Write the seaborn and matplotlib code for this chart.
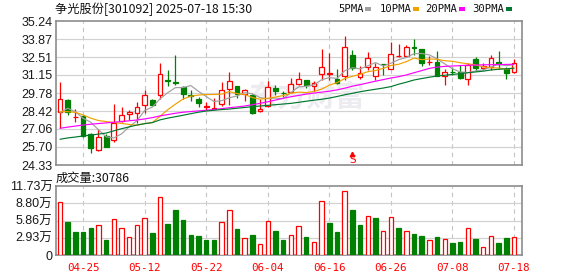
import numpy as np
import matplotlib
matplotlib.use("Agg")
import matplotlib.pyplot as plt
from matplotlib.patches import Rectangle
import seaborn as sns

# ---------------- data ----------------
dates = ["2025-04-22", "2025-04-23", "2025-04-24", "2025-04-25", "2025-04-28", "2025-04-29", "2025-04-30",
         "2025-05-06", "2025-05-07", "2025-05-08", "2025-05-09", "2025-05-12", "2025-05-13", "2025-05-14",
         "2025-05-15", "2025-05-16", "2025-05-19", "2025-05-20", "2025-05-21", "2025-05-22", "2025-05-23",
         "2025-05-26", "2025-05-27", "2025-05-28", "2025-05-29", "2025-05-30", "2025-06-03", "2025-06-04",
         "2025-06-05", "2025-06-06", "2025-06-09", "2025-06-10", "2025-06-11", "2025-06-12", "2025-06-13",
         "2025-06-16", "2025-06-17", "2025-06-18", "2025-06-19", "2025-06-20", "2025-06-23", "2025-06-24",
         "2025-06-25", "2025-06-26", "2025-06-27", "2025-06-30", "2025-07-01", "2025-07-02", "2025-07-03",
         "2025-07-04", "2025-07-07", "2025-07-08", "2025-07-09", "2025-07-10", "2025-07-11", "2025-07-14",
         "2025-07-15", "2025-07-16", "2025-07-17", "2025-07-18"]

opens = [28.37, 29.26, 27.97, 28.04, 26.68, 25.44, 26.55, 26.20, 27.69, 28.17,
         28.25, 28.85, 29.26, 29.61, 30.75, 30.62, 30.27, 29.63, 29.33, 28.73,
         28.61, 28.92, 30.07, 30.32, 29.74, 29.63, 28.40, 28.80, 30.20, 29.80,
         29.84, 30.44, 30.77, 30.32, 31.20, 31.26, 30.82, 31.07, 32.66, 31.02,
         31.73, 31.07, 32.00, 31.62, 32.57, 32.61, 33.25, 33.12, 32.14, 32.16,
         31.08, 31.38, 31.40, 30.88, 32.34, 31.66, 31.72, 32.11, 31.58, 31.40]
highs = [30.62, 29.30, 28.55, 28.10, 26.75, 27.08, 26.70, 28.95, 28.70, 28.50,
         29.08, 30.01, 29.30, 32.04, 31.53, 32.66, 30.33, 30.01, 29.51, 29.13,
         29.38, 30.60, 31.35, 30.32, 30.09, 29.70, 29.33, 30.69, 30.37, 29.96,
         30.92, 31.40, 30.80, 30.69, 33.10, 32.79, 31.60, 34.10, 33.04, 31.83,
         32.87, 32.08, 32.02, 33.67, 33.50, 33.42, 33.88, 33.15, 32.59, 32.95,
         31.60, 31.73, 31.91, 32.08, 32.54, 32.08, 32.66, 32.95, 31.78, 32.36]
lows = [27.13, 28.12, 27.61, 26.47, 25.26, 25.39, 25.66, 26.05, 27.60, 27.74,
        27.54, 28.25, 28.80, 29.35, 30.32, 30.42, 29.31, 29.20, 28.75, 28.50,
        28.58, 28.80, 28.88, 29.38, 29.20, 28.17, 28.35, 28.70, 29.61, 29.50,
        29.76, 30.39, 30.14, 29.96, 30.77, 30.77, 30.46, 30.77, 31.53, 30.82,
        31.53, 30.77, 31.15, 31.58, 32.49, 32.54, 32.66, 31.80, 31.91, 31.07,
        30.41, 31.15, 30.85, 30.39, 31.48, 31.53, 31.53, 31.58, 30.88, 31.28]
closes = [29.31, 28.37, 28.00, 26.55, 25.64, 26.43, 25.72, 27.54, 28.10, 28.35,
          28.70, 29.61, 28.85, 31.20, 30.70, 30.57, 29.69, 29.58, 29.00, 28.77,
          28.65, 30.01, 30.67, 29.71, 29.99, 28.25, 28.60, 30.22, 29.96, 29.76,
          30.50, 30.82, 30.39, 30.52, 31.73, 31.28, 30.52, 33.29, 31.66, 31.28,
          32.46, 31.78, 31.95, 32.74, 32.61, 33.29, 33.20, 32.08, 32.16, 31.10,
          31.40, 31.35, 30.90, 31.91, 31.70, 31.83, 32.41, 31.98, 31.32, 32.08]

# volume in 万 (10k shares)
volume_wan = [9.07, 5.55, 3.91, 3.91, 4.59, 5.04, 2.55, 6.06, 4.53, 3.12,
              5.04, 6.35, 3.74, 9.80, 5.27, 7.65, 5.95, 3.40, 3.23, 2.55,
              2.55, 5.55, 7.59, 4.42, 2.83, 3.40, 1.87, 5.72, 4.08, 2.55,
              3.34, 4.87, 3.06, 2.21, 9.12, 5.44, 3.91, 10.82, 7.65, 5.10,
              6.57, 6.29, 4.02, 6.40, 4.59, 4.02, 3.57, 3.23, 2.49, 3.06,
              2.66, 2.04, 2.21, 4.53, 2.72, 1.30, 3.17, 2.04, 2.89, 3.08]
# 1 = red (up vs previous close), 0 = green
vol_up = [1, 0, 0, 0, 0, 1, 0, 1, 1, 1, 1, 1, 0, 1, 0, 0, 0, 0, 0, 0,
          0, 1, 1, 0, 1, 0, 1, 1, 0, 0, 1, 1, 0, 1, 1, 0, 0, 1, 0, 0,
          1, 0, 1, 1, 0, 1, 0, 0, 1, 0, 1, 0, 0, 1, 0, 1, 1, 0, 0, 1]

ma5 = [28.29, 28.63, 28.37, 27.87, 27.57, 27.00, 26.47, 26.38, 26.69, 27.23,
       27.68, 28.46, 28.72, 29.34, 29.81, 30.19, 30.20, 30.35, 29.91, 29.52,
       29.14, 29.20, 29.42, 29.56, 29.81, 29.73, 29.44, 29.35, 29.40, 29.36,
       29.81, 30.25, 30.29, 30.40, 30.79, 30.95, 30.89, 31.47, 31.70, 31.61,
       31.84, 32.09, 31.83, 32.04, 32.31, 32.47, 32.76, 32.78, 32.67, 32.37,
       31.99, 31.62, 31.38, 31.33, 31.45, 31.54, 31.75, 31.97, 31.85, 31.93]
ma10 = [28.37, 28.37, 28.32, 28.12, 27.88, 27.70, 27.62, 27.55, 27.48, 27.40,
        27.34, 27.47, 27.55, 28.02, 28.52, 28.94, 29.33, 29.54, 29.63, 29.67,
        29.67, 29.70, 29.89, 29.74, 29.67, 29.44, 29.32, 29.39, 29.48, 29.59,
        29.77, 29.85, 29.82, 29.90, 30.08, 30.38, 30.57, 30.88, 31.05, 31.20,
        31.40, 31.49, 31.65, 31.87, 31.96, 32.16, 32.43, 32.31, 32.36, 32.34,
        32.23, 32.19, 32.08, 32.00, 31.91, 31.77, 31.69, 31.68, 31.59, 31.69]
ma20 = [27.11, 27.20, 27.28, 27.36, 27.42, 27.47, 27.52, 27.57, 27.62, 27.68,
        27.74, 27.82, 27.92, 28.05, 28.15, 28.25, 28.33, 28.38, 28.43, 28.48,
        28.53, 28.60, 28.67, 28.73, 28.80, 28.90, 29.00, 29.12, 29.25, 29.38,
        29.50, 29.60, 29.70, 29.78, 29.85, 29.92, 30.02, 30.15, 30.30, 30.42,
        30.55, 30.68, 30.80, 30.92, 31.02, 31.15, 31.32, 31.48, 31.65, 31.75,
        31.80, 31.83, 31.86, 31.89, 31.90, 31.92, 31.93, 31.94, 31.95, 31.96]
ma30 = [26.28, 26.38, 26.45, 26.53, 26.60, 26.67, 26.75, 26.92, 27.08, 27.22,
        27.36, 27.46, 27.54, 27.75, 27.88, 27.99, 28.10, 28.22, 28.33, 28.42,
        28.48, 28.53, 28.57, 28.63, 28.69, 28.75, 28.80, 28.85, 28.90, 28.95,
        29.00, 29.08, 29.16, 29.24, 29.31, 29.40, 29.52, 29.65, 29.76, 29.88,
        29.98, 30.07, 30.16, 30.27, 30.45, 30.60, 30.77, 30.88, 30.98, 31.07,
        31.13, 31.19, 31.25, 31.32, 31.38, 31.44, 31.53, 31.58, 31.62, 31.66]

price_ticks = [24.33, 25.70, 27.06, 28.42, 29.78, 31.15, 32.51, 33.87, 35.24]
vol_ticks = [0, 2.93, 5.86, 8.80, 11.73]
vol_tick_labels = ["0", "2.93万", "5.86万", "8.80万", "11.73万"]
xtick_dates = ["2025-04-25", "2025-05-12", "2025-05-22", "2025-06-04",
               "2025-06-16", "2025-06-26", "2025-07-08", "2025-07-18"]
title_text = "争光股份[301092] 2025-07-18 15:30"
last_volume = 30786
signal_date = "2025-06-19"
ma_names = ["5PMA", "10PMA", "20PMA", "30PMA"]
ma_colors = ["#a0a0a0", "#f0a000", "#ff00ff", "#007830"]

# ---------------- style ----------------
sns.set_style("white")
plt.rcParams["font.family"] = ["Liberation Sans", "Noto Sans CJK SC", "DejaVu Sans"]

W, H = 578, 276
fig = plt.figure(figsize=(W / 100, H / 100), dpi=100)
fig.patch.set_facecolor("white")

def fx(px):
    return px / W

def fy(py):
    return 1 - py / H

L, R = 56, 522
ax_p = fig.add_axes([fx(L), fy(165), fx(R - L), 144 / H])
ax_v = fig.add_axes([fx(L), fy(255), fx(R - L), 69 / H])

idx = np.arange(len(dates))
RED = "#ff0000"
GREEN = "#008000"
SPINE = "#8c8c8c"
GRID = "#d2d2d2"
xt_idx = [dates.index(d) for d in xtick_dates]

for ax in (ax_p, ax_v):
    ax.set_xlim(-0.52, 60.04)
    for s in ax.spines.values():
        s.set_color(SPINE)
        s.set_linewidth(1.2)
        s.set_visible(True)
    ax.tick_params(axis="both", length=0, pad=2.5)
    for xi in xt_idx:
        ax.axvline(xi, color="#c4c4c4", lw=0.8, ls=(0, (4, 3.5)), zorder=0)

# ---------------- price panel ----------------
ax_p.set_ylim(price_ticks[0], price_ticks[-1])
ax_p.set_yticks(price_ticks)
ax_p.set_yticklabels([f"{t:.2f}" for t in price_ticks], fontsize=9, color="#1a1a1a")
ax_p.set_xticks([])
for t in price_ticks[1:-1]:
    ax_p.axhline(t, color=GRID, lw=0.85, zorder=0)

# watermark
ax_p.text(32.0, 29.5, "东方财富", fontsize=21, fontweight="bold", color="#ececf0",
          ha="center", va="center", family=["Noto Sans CJK SC"], zorder=0.5)

bw = 0.62
for i in idx:
    o, h, l, c = opens[i], highs[i], lows[i], closes[i]
    top, bot = max(o, c), min(o, c)
    height = max(top - bot, 0.015)
    if c >= o:
        ax_p.vlines(i, top, h, color=RED, lw=0.9, zorder=2)
        ax_p.vlines(i, l, bot, color=RED, lw=0.9, zorder=2)
        ax_p.bar(i, height, bottom=bot, width=bw, facecolor="white",
                 edgecolor=RED, linewidth=0.9, zorder=3)
    else:
        ax_p.vlines(i, l, h, color=GREEN, lw=0.9, zorder=2)
        ax_p.bar(i, height, bottom=bot, width=bw, facecolor=GREEN,
                 edgecolor=GREEN, linewidth=0.9, zorder=3)

for vals, col in zip([ma5, ma10, ma20, ma30], ma_colors):
    sns.lineplot(x=idx, y=vals, color=col, linewidth=0.85, ax=ax_p, zorder=4, legend=False)
ax_p.set_ylim(price_ticks[0], price_ticks[-1])
ax_p.set_xlim(-0.52, 60.04)
ax_p.set_xlabel("")
ax_p.set_ylabel("")

# signal marker
si = dates.index(signal_date)
ax_p.plot([si], [25.15], marker="^", color=RED, ms=3.2, zorder=5, clip_on=False)
ax_p.text(si, 24.72, "S", color=RED, fontsize=7.5, ha="center", va="center",
          family=["DejaVu Sans"], zorder=5)

# ---------------- volume panel ----------------
ax_v.set_ylim(0, vol_ticks[-1])
ax_v.set_yticks(vol_ticks)
ax_v.set_yticklabels(vol_tick_labels, fontsize=9, color="#1a1a1a",
                     family=["Liberation Sans", "Noto Sans CJK SC"])
for t in vol_ticks[1:-1]:
    ax_v.axhline(t, color=GRID, lw=0.85, zorder=0)
for i in idx:
    if vol_up[i]:
        ax_v.bar(i, volume_wan[i], width=0.58, facecolor="white", edgecolor=RED,
                 linewidth=0.9, zorder=3)
    else:
        ax_v.bar(i, volume_wan[i], width=0.58, facecolor=GREEN, edgecolor=GREEN,
                 linewidth=0.9, zorder=3)
ax_v.set_xticks(xt_idx)
ax_v.set_xticklabels([d[5:] for d in xtick_dates], color=RED, fontsize=7.8,
                     family=["DejaVu Sans Mono"])
ax_v.tick_params(axis="x", pad=5.5)

# ---------------- texts ----------------
fig.text(fx(55), fy(9), title_text, fontsize=8.8, ha="left", va="center",
         family=["Noto Sans CJK SC", "DejaVu Sans"], color="#111111")
fig.text(fx(56), fy(178), f"成交量:{last_volume}", fontsize=8.8, ha="left", va="center",
         family=["Noto Sans CJK SC", "DejaVu Sans"], color="#111111")

legend_pos = [(338, 365), (380, 413), (425, 459), (472, 506)]
for (tx, sx), name, col in zip(legend_pos, ma_names, ma_colors):
    fig.text(fx(tx), fy(9), name, fontsize=7.6, ha="left", va="center",
             family=["DejaVu Sans Mono"], color="#111111")
    fig.patches.append(Rectangle((fx(sx), fy(10.5)), fx(6), 4 / H, transform=fig.transFigure,
                                 facecolor=col, edgecolor="none"))

fig.savefig("out.png", dpi=100, facecolor="white")
